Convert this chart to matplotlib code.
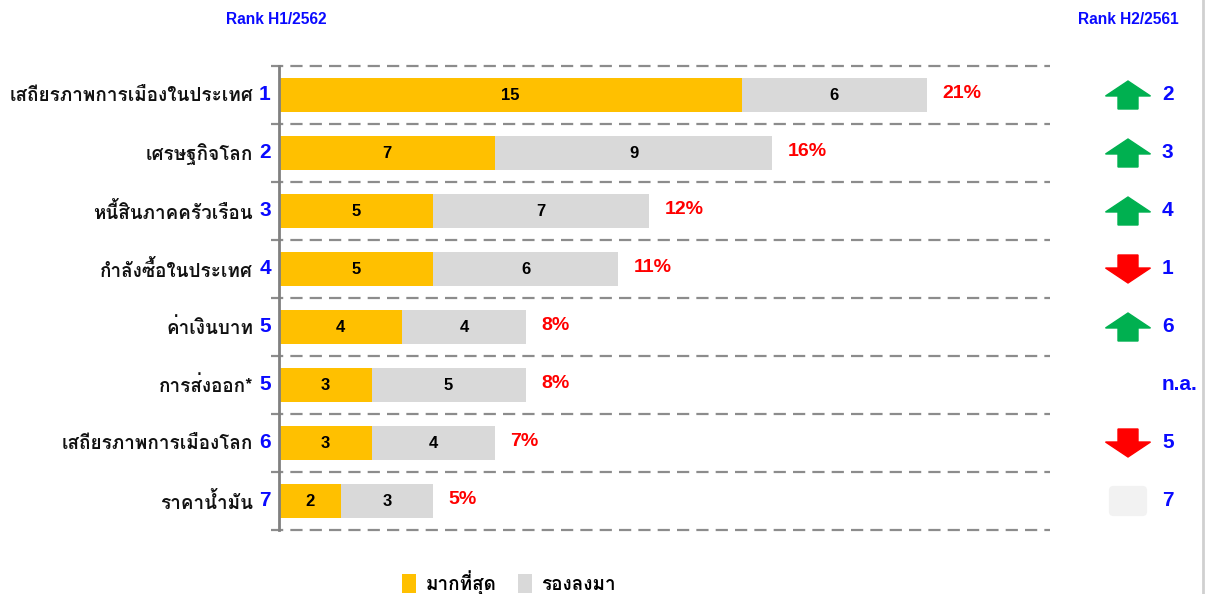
"""
Ranking of factors affecting business (H1/2562 vs H2/2561).

Horizontal stacked bars with rank arrows on the right.
"""

import matplotlib
matplotlib.use("Agg")
import matplotlib.pyplot as plt
from matplotlib import font_manager
from matplotlib.ft2font import FT2Font
from matplotlib.patches import Polygon, FancyBboxPatch

categories = [
    "เสถียรภาพการเมืองในประเทศ",
    "เศรษฐกิจโลก",
    "หนี้สินภาคครัวเรือน",
    "กำลังซื้อในประเทศ",
    "ค่าเงินบาท",
    "การส่งออก*",
    "เสถียรภาพการเมืองโลก",
    "ราคาน้ำมัน",
]
rank_now = ["1", "2", "3", "4", "5", "5", "6", "7"]
most = [15, 7, 5, 5, 4, 3, 3, 2]
second = [6, 9, 7, 6, 4, 5, 4, 3]
share = ["21%", "16%", "12%", "11%", "8%", "8%", "7%", "5%"]
rank_prev = ["2", "3", "4", "1", "6", "n.a.", "5", "7"]
trend = ["up", "up", "up", "down", "up", "none", "down", "same"]

ORANGE = "#FFC000"
GRAY = "#D9D9D9"
BLUE = "#0A0AFF"
RED = "#FF0000"
GREEN = "#00B050"


def find_thai_font():
    preferred = ["Tahoma", "Loma", "Garuda", "Noto Sans Thai UI",
                 "Noto Sans Thai", "Sarabun", "Waree", "Umpush", "Norasi"]
    found = {}
    for f in font_manager.fontManager.ttflist:
        try:
            cmap = FT2Font(f.fname).get_charmap()
        except Exception:
            continue
        if 0x0E01 in cmap and 0x0E40 in cmap:
            found.setdefault(f.name, f.fname)
    for name in preferred:
        if name in found:
            return name
    return next(iter(found), "DejaVu Sans")


THAI = find_thai_font()
LATIN = "Liberation Sans"
plt.rcParams["font.family"] = [LATIN, THAI, "DejaVu Sans"]
THAI_FAM = [THAI, LATIN, "DejaVu Sans"]

fig = plt.figure(figsize=(12.07, 5.94), dpi=100)
ax = fig.add_axes([279 / 1207, 1 - 530 / 594, 771 / 1207, 464 / 594])

y = list(range(len(categories)))
ax.barh(y, most, height=0.6, color=ORANGE, label="มากที่สุด", zorder=2)
ax.barh(y, second, left=most, height=0.6, color=GRAY, label="รองลงมา", zorder=2)

ax.set_xlim(0, 25)
ax.set_ylim(len(categories) - 0.5, -0.5)
ax.set_xticks([])
ax.set_yticks([])
for s in ["top", "right", "bottom"]:
    ax.spines[s].set_visible(False)
ax.spines["left"].set_color("#808080")
ax.spines["left"].set_linewidth(2)

# dashed separators between rows
for b in [i - 0.5 for i in range(len(categories) + 1)]:
    ax.plot([-0.25, 25], [b, b], color="#8C8C8C", lw=1.6, ls=(0, (5.5, 3.2)),
            clip_on=False, zorder=1)

px_x = 1 / 771   # one pixel in axes fraction
px_y = 1 / 58    # one pixel in row units
yt = ax.get_yaxis_transform()

for i in y:
    m, s = most[i], second[i]
    ax.text(m / 2, i, str(m), ha="center", va="center", fontsize=12,
            fontweight="bold", color="black", zorder=3)
    ax.text(m + s / 2, i, str(s), ha="center", va="center", fontsize=12,
            fontweight="bold", color="black", zorder=3)
    ax.text(m + s + 0.5, i - 0.03, share[i], ha="left", va="center",
            fontsize=14, fontweight="bold", color=RED)

    # left labels
    ax.text(-26 * px_x, i + 0.02, categories[i], transform=yt, ha="right",
            va="center", fontsize=13.6, fontweight="bold", family=THAI_FAM,
            color="#111111")
    ax.text(-14 * px_x, i, rank_now[i], transform=yt, ha="center",
            va="center", fontsize=15, fontweight="bold", color=BLUE)

    # right rank column
    ax.text(883 * px_x, i, rank_prev[i], transform=yt, ha="left",
            va="center", fontsize=15, fontweight="bold", color=BLUE)

    cx = 849 * px_x
    hw, sw = 22.5 * px_x, 10 * px_x
    h, hh = 28 * px_y, 15 * px_y
    if trend[i] == "up":
        top, bot = i - h / 2, i + h / 2
        pts = [(cx, top), (cx + hw, top + hh), (cx + sw, top + hh),
               (cx + sw, bot), (cx - sw, bot), (cx - sw, top + hh),
               (cx - hw, top + hh)]
        ax.add_patch(Polygon(pts, closed=True, color=GREEN, transform=yt,
                             clip_on=False))
    elif trend[i] == "down":
        top, bot = i - h / 2, i + h / 2
        pts = [(cx, bot), (cx + hw, bot - hh), (cx + sw, bot - hh),
               (cx + sw, top), (cx - sw, top), (cx - sw, bot - hh),
               (cx - hw, bot - hh)]
        ax.add_patch(Polygon(pts, closed=True, color=RED, transform=yt,
                             clip_on=False))
    elif trend[i] == "same":
        ax.add_patch(FancyBboxPatch((cx - 16 * px_x, i - 12 * px_y),
                                    32 * px_x, 24 * px_y,
                                    boxstyle="round,pad=0.004,rounding_size=0.006",
                                    mutation_aspect=771 / 58,
                                    color="#F2F2F2", transform=yt,
                                    clip_on=False, lw=0))

fig.text(276 / 1207, 1 - 19 / 594, "Rank H1/2562", ha="center", va="center",
         fontsize=11.2, fontweight="bold", color=BLUE)
fig.text(1128 / 1207, 1 - 19 / 594, "Rank H2/2561", ha="center", va="center",
         fontsize=11.2, fontweight="bold", color=BLUE)

# thin border line at the right edge
fig.add_artist(plt.Line2D([1203 / 1207, 1203 / 1207], [0, 1], color="#D0D0D0",
                          lw=2, transform=fig.transFigure))

fig.legend(loc="center", bbox_to_anchor=(509 / 1207, 1 - 583 / 594), ncol=2,
           frameon=False, handlelength=0.75, handleheight=1.2,
           columnspacing=1.1, handletextpad=0.5,
           prop={"family": THAI_FAM, "size": 13.6, "weight": "bold"})

fig.savefig("out.png", dpi=100)
